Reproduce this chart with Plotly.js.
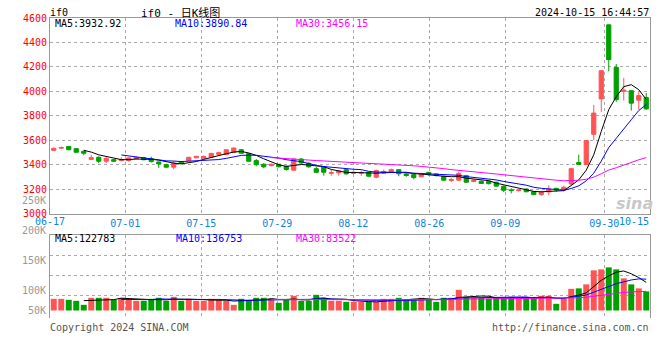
<!DOCTYPE html>
<html><head><meta charset="utf-8">
<script src="https://cdn.plot.ly/plotly-3.0.1.min.js"></script>
<style>html,body{margin:0;padding:0;background:#fff}#chart{width:660px;height:360px}</style>
</head><body><div id="chart"></div>
<script>
// ---- data ----
const dates = [
 '06-17','06-18','06-19','06-20','06-21','06-24','06-25','06-26','06-27','06-28',
 '07-01','07-02','07-03','07-04','07-05','07-08','07-09','07-10','07-11','07-12',
 '07-15','07-16','07-17','07-18','07-19','07-22','07-23','07-24','07-25','07-26',
 '07-29','07-30','07-31','08-01','08-02','08-05','08-06','08-07','08-08','08-09',
 '08-12','08-13','08-14','08-15','08-16','08-19','08-20','08-21','08-22','08-23',
 '08-26','08-27','08-28','08-29','08-30','09-02','09-03','09-04','09-05','09-06',
 '09-09','09-10','09-11','09-12','09-13','09-18','09-19','09-20','09-23','09-24',
 '09-25','09-26','09-27','09-30','10-08','10-09','10-10','10-11','10-14','10-15'];
const opens = [
 3517,3535,3549,3531,3509,3443,3460,3428,3441,3434,
 3433,3447,3457,3449,3422,3400,3379,3425,3433,3456,
 3453,3460,3484,3482,3500,3522,3490,3433,3403,3392,
 3403,3386,3355,3446,3411,3367,3381,3329,3333,3359,
 3328,3330,3337,3297,3330,3338,3359,3323,3318,3300,
 3337,3324,3305,3270,3273,3310,3262,3264,3264,3256,
 3223,3193,3188,3200,3178,3155,3177,3206,3188,3242,
 3418,3400,3648,3938,4544,4196,4000,4005,3927,3950];
const highs = [
 3541,3548,3552,3533,3515,3480,3468,3465,3444,3460,
 3460,3466,3460,3465,3425,3408,3427,3430,3463,3472,
 3475,3496,3505,3525,3540,3528,3492,3446,3412,3408,
 3405,3392,3452,3455,3420,3381,3384,3359,3352,3362,
 3343,3350,3340,3359,3359,3368,3362,3330,3326,3332,
 3340,3328,3310,3290,3340,3316,3278,3270,3268,3260,
 3228,3207,3200,3205,3182,3185,3230,3210,3228,3370,
 3482,3600,3889,4170,4546,4224,4110,4008,3995,3987];
const lows = [
 3515,3530,3518,3498,3477,3441,3411,3412,3420,3425,
 3425,3440,3436,3418,3373,3370,3362,3405,3430,3452,
 3450,3457,3480,3479,3497,3490,3425,3386,3370,3385,
 3378,3351,3350,3405,3375,3332,3310,3310,3310,3320,
 3322,3308,3300,3288,3325,3335,3305,3300,3280,3298,
 3310,3302,3268,3258,3265,3253,3256,3243,3238,3220,
 3175,3165,3180,3174,3152,3145,3150,3180,3183,3222,
 3398,3395,3600,3832,4163,3913,3925,3842,3850,3850];
const closes = [
 3533,3540,3522,3501,3493,3457,3428,3451,3428,3440,
 3455,3458,3440,3425,3406,3379,3411,3410,3460,3468,
 3467,3492,3498,3522,3536,3493,3428,3400,3382,3403,
 3382,3360,3446,3414,3382,3337,3338,3334,3348,3324,
 3337,3333,3305,3351,3344,3359,3325,3311,3294,3327,
 3319,3311,3273,3278,3327,3256,3272,3246,3244,3224,
 3190,3188,3193,3178,3155,3174,3200,3192,3215,3367,
 3402,3598,3822,4169,4259,3932,4009,3903,3965,3856];
const volumes = [
 51000,51000,46600,42300,24800,55400,55400,55400,46600,55400,
 46600,42300,42300,51000,55400,42300,59800,42300,51000,42300,
 42300,51000,46600,42300,24800,51000,46600,55400,55400,51000,
 33500,46600,64100,42300,42300,68500,55400,42300,42300,37900,
 37900,37900,37900,37900,51000,51000,55400,46600,51000,55400,
 46600,37900,55400,55400,90300,59800,55400,55400,51000,55400,
 55400,59800,51000,55400,55400,64100,64100,29200,51000,94700,
 96700,114200,175400,179700,188500,179700,140400,114200,96700,83600];
const priceTicks = [3000,3200,3400,3600,3800,4000,4200,4400,4600];
const xTickLabels = ['07-01','07-15','07-29','08-12','08-26','09-09','09-30'];
const firstLabel = '06-17', lastLabel = '10-15';
const maLabelsK = ['MA5:3932.92','MA10:3890.84','MA30:3456.15'];
const maLabelsV = ['MA5:122783','MA10:136753','MA30:83522'];
const volLabels = ['250K','200K','150K','100K','50K'];

// ---- styling / layout constants ----
const RED = '#ff5454', GREEN = '#00a000';
const MA_COLORS = ['#000000', '#0000ff', '#ff00ff'];
const MA_N = [5, 10, 30];
const gridX = [9.54, 19.67, 29.81, 39.94, 50.07, 60.2, 73.4];
const x = dates.map((d, i) => i);

function movingAvg(arr, n) {
  return arr.map((v, i) => {
    if (i < n - 1) return null;
    let s = 0;
    for (let k = i - n + 1; k <= i; k++) s += arr[k];
    return s / n;
  });
}

const traces = [];
traces.push({
  type: 'candlestick', x: x, open: opens, high: highs, low: lows, close: closes,
  xaxis: 'x', yaxis: 'y', whiskerwidth: 0, hoverinfo: 'skip',
  increasing: {line: {color: RED, width: 1}, fillcolor: RED},
  decreasing: {line: {color: GREEN, width: 1}, fillcolor: GREEN}
});
MA_N.forEach((n, j) => traces.push({
  type: 'scatter', mode: 'lines', x: x, y: movingAvg(closes, n),
  xaxis: 'x', yaxis: 'y', line: {color: MA_COLORS[j], width: 1}, hoverinfo: 'skip'
}));
traces.push({
  type: 'bar', x: x, y: volumes, xaxis: 'x2', yaxis: 'y2', width: 0.8,
  marker: {color: closes.map((c, i) => c >= opens[i] ? RED : GREEN), line: {width: 0}},
  hoverinfo: 'skip'
});
MA_N.forEach((n, j) => traces.push({
  type: 'scatter', mode: 'lines', x: x, y: movingAvg(volumes, n),
  xaxis: 'x2', yaxis: 'y2', line: {color: MA_COLORS[j], width: 1}, hoverinfo: 'skip'
}));

// pixel helpers for annotations (plot area: x 50..650, y 18..318)
const px = p => (p - 50) / 600;
const py = p => (318 - p) / 300;
const MONO = 'DejaVu Sans Mono, Liberation Mono, monospace';
function ann(text, X, Y, anchor, color, extra) {
  return Object.assign({text: text, xref: 'paper', yref: 'paper', x: px(X), y: py(Y),
    xanchor: anchor, yanchor: 'middle', showarrow: false, borderpad: 0,
    font: {family: MONO, size: 10, color: color}}, extra || {});
}
const annotations = [
  ann('if0', 49, 12.5, 'left', '#000'),
  ann('if0 - 日K线图', 140, 12.5, 'left', '#000', {font: {family: MONO + ', Noto Sans CJK SC', size: 11, color: '#000'}}),
  ann('2024-10-15 16:44:57', 650, 12.5, 'right', '#000'),
  ann(maLabelsK[0], 54, 23.7, 'left', MA_COLORS[0]),
  ann(maLabelsK[1], 174, 23.7, 'left', MA_COLORS[1]),
  ann(maLabelsK[2], 295, 23.7, 'left', MA_COLORS[2]),
  ann(maLabelsV[0], 54, 238.5, 'left', MA_COLORS[0]),
  ann(maLabelsV[1], 175, 238.5, 'left', MA_COLORS[1]),
  ann(maLabelsV[2], 295, 238.5, 'left', MA_COLORS[2]),
  ann(volLabels[0], 47, 200, 'right', '#999'),
  ann(volLabels[1], 47, 230, 'right', '#999'),
  ann(volLabels[2], 47, 260.7, 'right', '#999'),
  ann(volLabels[3], 47, 290.7, 'right', '#999'),
  ann(volLabels[4], 47, 310.7, 'right', '#999'),
  ann(firstLabel, 50, 221, 'center', '#0a84e0'),
  ann(lastLabel, 650, 221, 'right', '#0a84e0'),
  ann('Copyright 2024 SINA.COM', 49, 327, 'left', '#555'),
  ann('http://finance.sina.com.cn', 650, 327, 'right', '#555'),
  ann('<b><i>sina</i></b>', 634, 203, 'center', '#c8c8c8', {font: {family: 'DejaVu Sans', size: 16, color: '#c8c8c8'}})
];

const grid = {showgrid: true, gridcolor: '#aaaaaa', griddash: 'dot', gridwidth: 1};
const layout = {
  width: 660, height: 360,
  margin: {l: 50, r: 10, t: 18, b: 42, pad: 0},
  paper_bgcolor: '#fff', plot_bgcolor: '#fff',
  showlegend: false, boxgap: 0.2, hovermode: false,
  font: {family: MONO, size: 10, color: '#000'},
  xaxis: Object.assign({anchor: 'y', range: [-0.5, 79.5], tickmode: 'array', tickvals: gridX, ticktext: xTickLabels,
    tickfont: {family: MONO, size: 10, color: '#0a84e0'}, ticks: '', showline: true, linecolor: '#999',
    mirror: true, zeroline: false, rangeslider: {visible: false}, fixedrange: true}, grid),
  yaxis: Object.assign({domain: [0.3483, 1], anchor: 'x', range: [3000, 4600], tickmode: 'array', tickvals: priceTicks,
    tickfont: {family: MONO, size: 10, color: '#ff0000'}, ticks: '', showline: true, linecolor: '#999',
    mirror: true, zeroline: false, fixedrange: true}, grid),
  xaxis2: Object.assign({anchor: 'y2', range: [-0.5, 79.5], tickmode: 'array', tickvals: gridX, showticklabels: false,
    ticks: '', side: 'top', showline: true, linecolor: '#999', zeroline: false, fixedrange: true}, grid),
  yaxis2: Object.assign({domain: [0, 0.2777], anchor: 'x2', range: [-32775, 331246], tickmode: 'array',
    tickvals: [242500, 155100, 66400], showticklabels: false, ticks: '', showline: true, mirror: true,
    linecolor: '#999', zeroline: false, fixedrange: true}, grid),
  annotations: annotations
};
Plotly.newPlot('chart', traces, layout, {staticPlot: true, displayModeBar: false});
</script></body></html>
